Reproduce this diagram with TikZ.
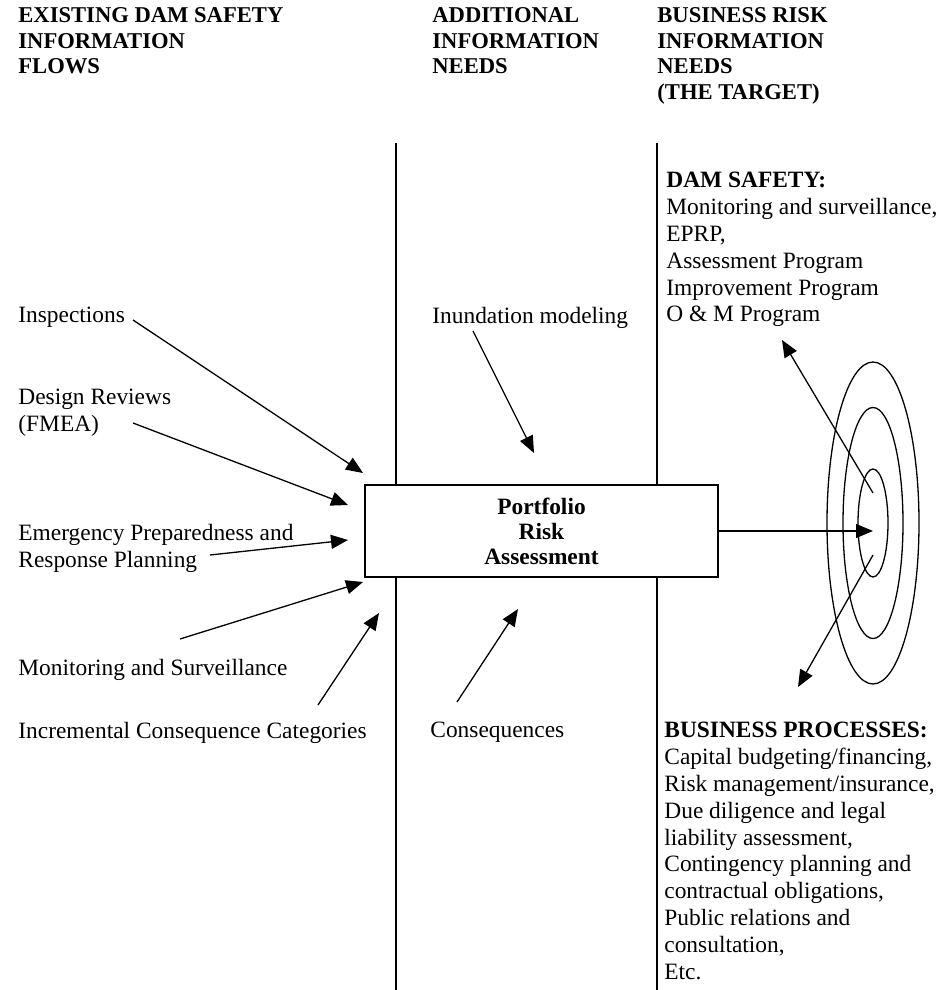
\documentclass[tikz,border=0pt]{standalone}
\usepackage{fontspec}
\setmainfont{Liberation Serif}
\usetikzlibrary{arrows.meta,shapes.geometric}
\begin{document}
\begin{tikzpicture}[x=0.5pt,y=-0.5pt,
  txt/.style={anchor=north west,inner sep=0pt,align=left,font=\fontsize{11.7}{13.4}\selectfont},
  hdr/.style={anchor=north west,inner sep=0pt,align=left,font=\fontsize{11.3}{12.9}\selectfont\bfseries},
  arr/.style={line width=0.65pt,-{Triangle[length=8.5pt,width=7pt]}},
  divider/.style={line width=0.65pt},
  ring/.style={draw,ellipse,line width=0.65pt,inner sep=0pt},
  mainbox/.style={draw,fill=white,line width=0.75pt,inner sep=0pt,align=center,
    minimum width=176.5pt,minimum height=46pt,font=\fontsize{11.7}{12.5}\selectfont\bfseries}]
\useasboundingbox (0,0) rectangle (947,990);

% column dividers
\coordinate (d1t) at (396,143); \coordinate (d1b) at (396,990);
\coordinate (d2t) at (657,143); \coordinate (d2b) at (657,990);
\draw[divider] (d1t) -- (d1b);
\draw[divider] (d2t) -- (d2b);

% headers
\node[hdr] (h1) at (18,7) {EXISTING DAM SAFETY\\INFORMATION\\FLOWS};
\node[hdr] (h2) at (432,7) {ADDITIONAL\\INFORMATION\\NEEDS};
\node[hdr] (h3) at (657,7) {BUSINESS RISK\\INFORMATION\\NEEDS\\(THE TARGET)};

% left column texts
\node[txt] (insp) at (18,307) {Inspections};
\node[txt] (design) at (18,389) {Design Reviews\\(FMEA)};
\node[txt] (eprp) at (18,524) {Emergency Preparedness and\\Response Planning};
\node[txt] (monit) at (18,659) {Monitoring and Surveillance};
\node[txt] (incr) at (18,722) {Incremental Consequence Categories};

% middle column texts
\node[txt] (inund) at (432,307) {Inundation modeling};
\node[txt] (conseq) at (430,722) {Consequences};

% right column texts
\node[txt] (damsafety) at (666,172) {\textbf{DAM SAFETY:}\\Monitoring and surveillance,\\EPRP,\\Assessment Program\\Improvement Program\\O \& M Program};
\node[txt] (business) at (664,722) {\textbf{BUSINESS PROCESSES:}\\Capital budgeting/financing,\\Risk management/insurance,\\Due diligence and legal\\liability assessment,\\Contingency planning and\\contractual obligations,\\Public relations and\\consultation,\\Etc.};

% target rings
\node[ring,minimum width=46pt,minimum height=161pt] (ringA) at (873,523) {};
\node[ring,minimum width=30pt,minimum height=115.5pt] (ringB) at (873,523) {};
\node[ring,minimum width=15pt,minimum height=54pt] (ringC) at (873,523) {};

% central box
\node[mainbox] (pra) at (541.5,531) {Portfolio\\Risk\\Assessment};

% arrow end points
\coordinate (a1s) at (133,320); \coordinate (a1e) at (363,473);
\coordinate (a2s) at (133,423); \coordinate (a2e) at (348,505);
\coordinate (a3s) at (210,555); \coordinate (a3e) at (348,540);
\coordinate (a4s) at (180,639); \coordinate (a4e) at (363,582);
\coordinate (a5s) at (318,705); \coordinate (a5e) at (379,613);
\coordinate (a6s) at (473,331); \coordinate (a6e) at (534,453);
\coordinate (a7s) at (457,702); \coordinate (a7e) at (518,609);
\coordinate (bull) at (873,531);
\coordinate (upS) at (873,493); \coordinate (upE) at (782,340);
\coordinate (dnS) at (873,555); \coordinate (dnE) at (798,687);

\draw[arr] (a1s) -- (a1e);
\draw[arr] (a2s) -- (a2e);
\draw[arr] (a3s) -- (a3e);
\draw[arr] (a4s) -- (a4e);
\draw[arr] (a5s) -- (a5e);
\draw[arr] (a6s) -- (a6e);
\draw[arr] (a7s) -- (a7e);
\draw[arr] (pra.east |- bull) -- (bull);
\draw[arr] (upS) -- (upE);
\draw[arr] (dnS) -- (dnE);
\end{tikzpicture}
\end{document}
